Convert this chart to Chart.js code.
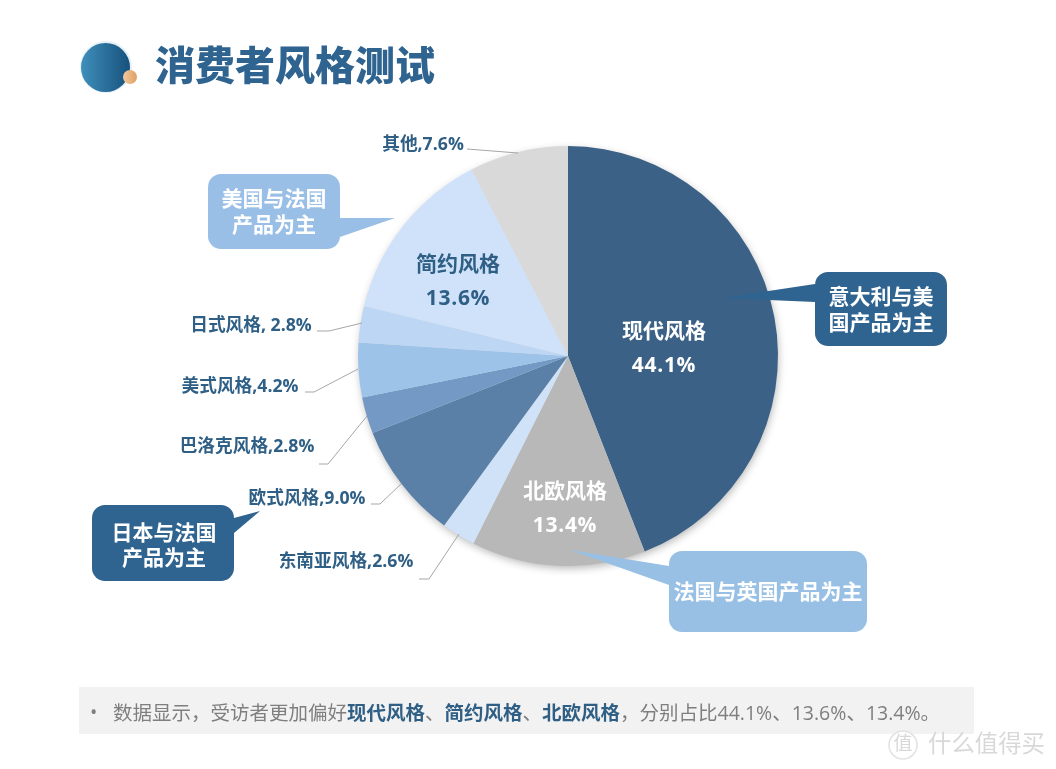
<!DOCTYPE html>
<html>
<head>
<meta charset="utf-8">
<title>消费者风格测试</title>
<script src="https://cdn.jsdelivr.net/npm/chart.js@4"></script>
<style>
html, body { margin: 0; padding: 0; background: #fff; }
canvas { display: block; }
</style>
</head>
<body>
<canvas id="styleChart" width="1056" height="769"></canvas>
<script>
var categories = ['现代风格', '北欧风格', '东南亚风格', '欧式风格', '巴洛克风格', '美式风格', '日式风格', '简约风格', '其他'];
var shares = [44.1, 13.4, 2.6, 9.0, 2.8, 4.2, 2.8, 13.6, 7.6];
var sliceColors = ['#3c6186', '#b8b8b8', '#cfe2f8', '#5b80a8', '#7499c4', '#9dc3e9', '#bcd6f3', '#cfe2f9', '#d9d9d9'];

var FONT = '"Open Sans", "Noto Sans CJK SC", sans-serif';
var DARK = '#2f6390';
var LIGHT = '#9abfe6';
var TEXT_BLUE = '#2f5f85';

// small labels outside the pie, with their leader lines
var outerLabels = [
    { i: 8, text: '其他,7.6%', x: 423, y: 145, line: [[467, 149], [518, 153]] },
    { i: 6, text: '日式风格, 2.8%', x: 251, y: 326, line: [[317, 331], [329, 331], [362, 323]] },
    { i: 5, text: '美式风格,4.2%', x: 240, y: 387, line: [[305, 392], [314, 392], [358, 369]] },
    { i: 4, text: '巴洛克风格,2.8%', x: 247, y: 447, line: [[319, 464], [328, 464], [367, 416]] },
    { i: 3, text: '欧式风格,9.0%', x: 307, y: 499, line: [[371, 504], [380, 504], [401, 484]] },
    { i: 2, text: '东南亚风格,2.6%', x: 346, y: 562, line: [[419, 579], [429, 579], [459, 534]] }
];

var innerLabels = [
    { i: 0, x: 664, y: 332, color: '#ffffff' },
    { i: 1, x: 565, y: 492, color: '#ffffff' },
    { i: 7, x: 458, y: 265, color: TEXT_BLUE }
];

var callouts = [
    { color: LIGHT, box: [208, 174, 132, 75], tail: [[340, 218], [395, 218], [340, 237]], lines: [['美国与法国', 274, 200], ['产品为主', 274, 226]] },
    { color: DARK, box: [815, 272, 132, 74], tail: [[815, 284], [722, 298], [815, 302]], lines: [['意大利与美', 881, 298], ['国产品为主', 881, 324]] },
    { color: '#98c0e4', box: [669, 551, 198, 81], tail: [[669, 566], [570, 550], [669, 585]], lines: [['法国与英国产品为主', 768, 593]] },
    { color: DARK, box: [92, 505, 142, 76], tail: [[234, 518], [260, 511], [234, 533]], lines: [['日本与法国', 164, 534], ['产品为主', 164, 559]] }
];

var noteRuns = [
    ['数据显示，受访者更加偏好', false],
    ['现代风格', true],
    ['、', false],
    ['简约风格', true],
    ['、', false],
    ['北欧风格', true],
    ['，分别占比44.1%、13.6%、13.4%。', false]
];

function roundBox(c, b, r) {
    c.beginPath();
    c.roundRect(b[0], b[1], b[2], b[3], r);
    c.fill();
}

var pieShadow = {
    id: 'pieShadow',
    beforeDatasetsDraw: function (chart) {
        var c = chart.ctx;
        var arc = chart.getDatasetMeta(0).data[0];
        c.save();
        c.shadowColor = 'rgba(0,0,0,0.3)';
        c.shadowBlur = 9;
        c.shadowOffsetX = 1;
        c.shadowOffsetY = 3;
        c.fillStyle = '#dddddd';
        c.beginPath();
        c.arc(arc.x, arc.y, arc.outerRadius - 1, 0, Math.PI * 2);
        c.fill();
        c.restore();
    }
};

var decorations = {
    id: 'decorations',
    afterDatasetsDraw: function (chart) {
        var c = chart.ctx;
        c.save();
        c.textBaseline = 'middle';
        c.textAlign = 'center';

        // title block
        var grad = c.createLinearGradient(81, 0, 130, 0);
        grad.addColorStop(0, '#3f8fbb');
        grad.addColorStop(1, '#17517c');
        c.fillStyle = '#e6f0f7';
        c.beginPath();
        c.arc(106, 67, 26, 0, Math.PI * 2);
        c.fill();
        c.fillStyle = grad;
        c.beginPath();
        c.arc(105.5, 67.5, 24.5, 0, Math.PI * 2);
        c.fill();
        var dot = c.createLinearGradient(123, 0, 137, 0);
        dot.addColorStop(0, '#f3c9a0');
        dot.addColorStop(1, '#e09f63');
        c.fillStyle = dot;
        c.beginPath();
        c.arc(130, 77, 7, 0, Math.PI * 2);
        c.fill();

        c.textAlign = 'left';
        c.fillStyle = DARK;
        c.font = '900 40px ' + FONT;
        c.fillText('消费者风格测试', 155, 69);

        // leader lines and outer labels
        c.textAlign = 'center';
        outerLabels.forEach(function (l) {
            c.strokeStyle = '#a6a6a6';
            c.lineWidth = 1;
            c.beginPath();
            l.line.forEach(function (p, n) {
                if (n === 0) c.moveTo(p[0], p[1]);
                else c.lineTo(p[0], p[1]);
            });
            c.stroke();
            c.fillStyle = TEXT_BLUE;
            c.font = 'bold 17.7px ' + FONT;
            c.fillText(l.text, l.x, l.y);
        });

        // labels inside the big slices
        innerLabels.forEach(function (l) {
            c.fillStyle = l.color;
            c.font = 'bold 21px ' + FONT;
            c.fillText(categories[l.i], l.x, l.y);
            c.letterSpacing = '0.7px';
            c.fillText(shares[l.i].toFixed(1) + '%', l.x, l.y + 34);
            c.letterSpacing = '0px';
        });

        // callouts
        callouts.forEach(function (o) {
            c.fillStyle = o.color;
            roundBox(c, o.box, 13);
            c.beginPath();
            c.moveTo(o.tail[0][0], o.tail[0][1]);
            c.lineTo(o.tail[1][0], o.tail[1][1]);
            c.lineTo(o.tail[2][0], o.tail[2][1]);
            c.closePath();
            c.fill();
            c.fillStyle = '#ffffff';
            c.font = 'bold 21px ' + FONT;
            o.lines.forEach(function (t) {
                c.fillText(t[0], t[1], t[2]);
            });
        });

        // bottom note
        c.fillStyle = '#f2f2f2';
        c.fillRect(79, 687, 895, 47);
        c.textAlign = 'left';
        c.fillStyle = '#7f7f7f';
        c.font = '19.5px ' + FONT;
        c.fillText('•', 90, 713);
        var x = 113;
        noteRuns.forEach(function (r) {
            c.font = (r[1] ? 'bold ' : '') + '19.5px ' + FONT;
            c.fillStyle = r[1] ? TEXT_BLUE : '#7f7f7f';
            c.fillText(r[0], x, 714);
            x += c.measureText(r[0]).width;
        });

        // watermark
        c.strokeStyle = '#e2e2e2';
        c.fillStyle = '#ffffff';
        c.lineWidth = 1.5;
        c.beginPath();
        c.arc(903, 745, 14, 0, Math.PI * 2);
        c.fill();
        c.stroke();
        c.fillStyle = '#d8d8d8';
        c.font = '23.4px ' + FONT;
        c.fillText('什么值得买', 928, 745);
        c.textAlign = 'center';
        c.font = '19px ' + FONT;
        c.fillText('值', 903, 745);

        c.restore();
    }
};

var ctx = document.getElementById('styleChart').getContext('2d');
var styleChart = new Chart(ctx, {
    type: 'pie',
    data: {
        labels: categories,
        datasets: [{
            data: shares,
            backgroundColor: sliceColors,
            borderWidth: 0
        }]
    },
    options: {
        responsive: false,
        animation: false,
        layout: {
            padding: { left: 358, right: 278, top: 146, bottom: 203 }
        },
        plugins: {
            legend: { display: false },
            tooltip: { enabled: false }
        }
    },
    plugins: [pieShadow, decorations]
});
</script>
</body>
</html>
